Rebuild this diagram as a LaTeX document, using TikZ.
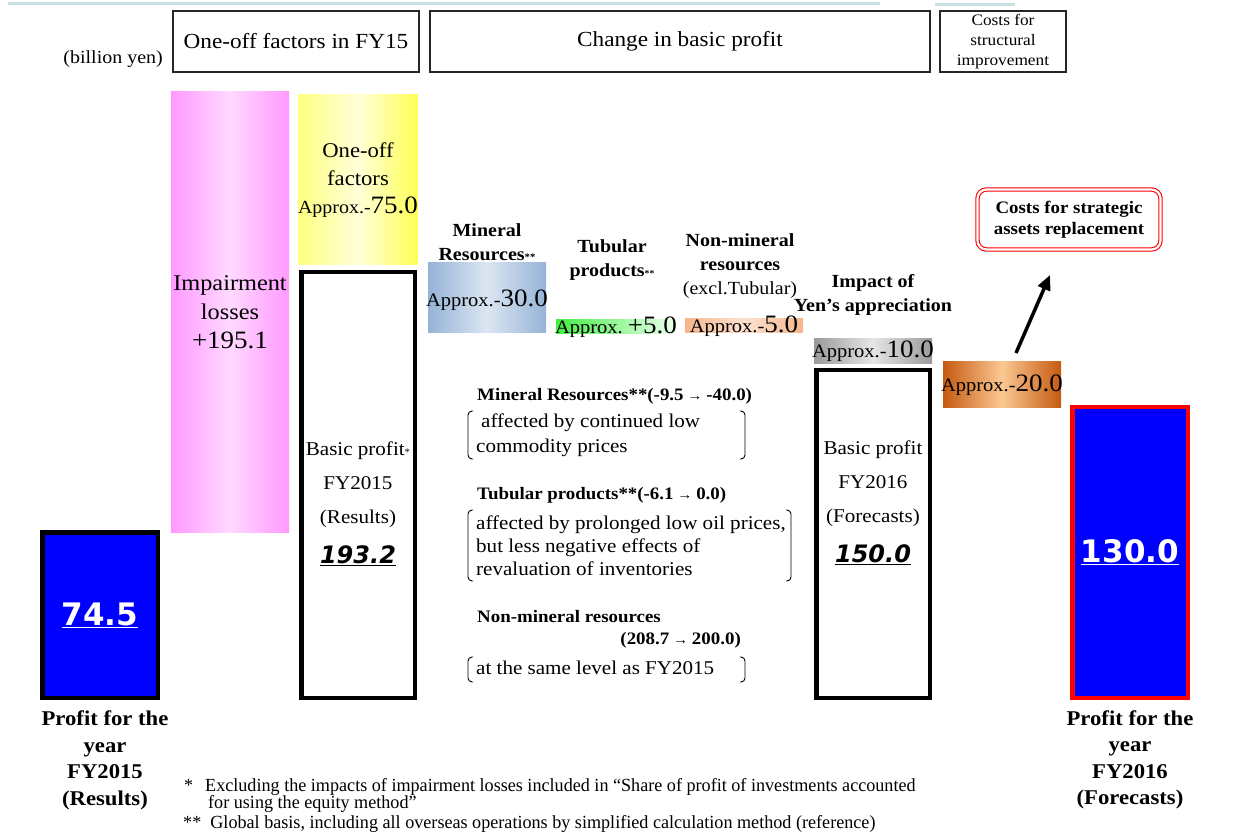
\documentclass[tikz,border=0pt]{standalone}
\usepackage{fontspec}
\setmainfont[FakeStretch=1.08]{Liberation Serif}
\newfontfamily\numfont{DejaVu Sans}
\newfontfamily\narrowfont[FakeStretch=0.98]{Liberation Serif}
\usepackage{tikz}
\usetikzlibrary{arrows.meta, shadings}

\definecolor{pinkedge}{HTML}{FF99FF}
\definecolor{pinkmid}{HTML}{FFD9FF}
\definecolor{yellowleft}{HTML}{FFFF80}
\definecolor{yellowmid}{HTML}{FFFFD8}
\definecolor{yellowright}{HTML}{FFFF55}
\definecolor{mineraledge}{HTML}{95B3D7}
\definecolor{mineralmid}{HTML}{DCE6F2}
\definecolor{tubleft}{HTML}{44EE44}
\definecolor{tubright}{HTML}{EEFFEE}
\definecolor{nonminedge}{HTML}{F5B68A}
\definecolor{nonminmid}{HTML}{FCE2D0}
\definecolor{yenedge}{HTML}{9A9A9A}
\definecolor{yenmid}{HTML}{E6E6E6}
\definecolor{costedge}{HTML}{C55A11}
\definecolor{costmid}{HTML}{FBC892}
\definecolor{profitblue}{HTML}{0000FF}
\definecolor{bandgray}{RGB}{200,222,226}

\newcommand{\fsz}[2]{\fontsize{#1}{#2}\selectfont}
% brackets round the notes: left x, right x, top y, bottom y
\newcommand{\bracketpair}[4]{%
  \draw[bracketline] (#1+5,#3) -- (#1,#3) -- (#1,#4) -- (#1+5,#4);
  \draw[bracketline] (#2-5,#3) -- (#2,#3) -- (#2,#4) -- (#2-5,#4);}

\begin{document}
\begin{tikzpicture}[x=1pt, y=-1pt,
    hdr/.style={draw=black!85, line width=1.2pt, minimum height=61pt, inner sep=0pt},
    bar/.style={minimum width=118pt, inner sep=0pt, outer sep=0pt},
    totalbar/.style={draw=black, line width=4.5pt, inner sep=0pt, outer sep=0pt},
    bartext/.style={align=center, inner sep=0pt},
    barlabel/.style={align=center, inner sep=0pt, font=\fsz{18.5}{24}\bfseries},
    bignum/.style={font=\numfont\fsz{31}{31}\bfseries, text=white},
    basicnum/.style={font=\numfont\fsz{24}{24}\bfseries\itshape},
    note/.style={anchor=base west, inner sep=0pt, font=\fsz{19.5}{23}},
    notehead/.style={note, font=\fsz{17.5}{20}\bfseries},
    bracketline/.style={line width=0.9pt, rounded corners=4pt},
    foot/.style={anchor=base west, inner sep=0pt, font=\narrowfont\fsz{18.5}{20}},
    yearlabel/.style={align=center, inner sep=0pt, font=\fsz{21}{26.5}\bfseries},
    upcost/.style={line width=3.5pt, -{Triangle[length=15pt, width=13pt]}}]
\useasboundingbox (0,0) rectangle (1235,834);
\draw[bandgray, line width=3pt] (8,4) -- (880,4);
\draw[bandgray, line width=3pt] (935,5) -- (1015,5);

% headers
\node[anchor=base east, inner sep=0pt, font=\fsz{18.5}{22}] (unit) at (163,64) {(billion yen)};
\node[hdr, minimum width=246pt, font=\fsz{21.5}{26}] (hdroneoff) at (296,41.5) {One-off factors in FY15};
\node[hdr, minimum width=500pt, font=\fsz{21.5}{26}] (hdrchange) at (680,41.5) {Change in basic profit};
\node[hdr, minimum width=126pt, align=center, font=\fsz{16}{20}] (hdrstruct) at (1003,41.5) {Costs for\\structural\\improvement};

% one-off factors
\node[bar, minimum height=440pt, left color=pinkedge, right color=pinkedge, middle color=pinkmid,
      bartext, font=\fsz{22.5}{29}] (impair) at (230,312) {Impairment\\losses\\{\fsz{25}{30}+195.1}};
\node[bar, minimum height=170pt, left color=yellowleft, right color=yellowright, middle color=yellowmid,
      bartext, font=\fsz{21}{28}] (oneoff) at (358,180) {One-off\\factors\\{\fsz{18.5}{28}Approx.-}{\fsz{25}{28}75.0}};

% profit and basic profit columns
\node[totalbar, fill=profitblue, minimum width=115.5pt, minimum height=165.5pt, bignum] (profit15) at (100,615) {\underline{74.5}};
\node[totalbar, minimum width=113.5pt, minimum height=425.5pt] (basic15) at (358,485) {};
\node[bartext, font=\fsz{19.5}{34}] (basic15lbl) at ([yshift=-19pt]basic15.center)
  {Basic profit{\fsz{10}{10}*}\\FY2015\\(Results)\\[6pt]{\numfont\fsz{24}{24}\bfseries\itshape\underline{193.2}}};
\node[totalbar, minimum width=113.5pt, minimum height=327.5pt] (basic16) at (873,534) {};
\node[bartext, font=\fsz{19.5}{34}] (basic16lbl) at ([yshift=31pt]basic16.center)
  {Basic profit\\FY2016\\(Forecasts)\\[6pt]{\numfont\fsz{24}{24}\bfseries\itshape\underline{150.0}}};
\node[totalbar, draw=red, fill=profitblue, minimum width=115.5pt, minimum height=290.5pt, bignum] (profit16) at (1130,552.5) {\underline{130.0}};

% changes in basic profit
\node[bar, minimum height=70pt, left color=mineraledge, right color=mineraledge, middle color=mineralmid] (mineral) at (487,298) {};
\node[bartext] (mineralval) at ([yshift=-2pt]mineral.center) {{\fsz{19}{22}Approx.-}{\fsz{25}{26}30.0}};
\node[bar, minimum width=120pt, minimum height=14pt, left color=tubleft, right color=tubright] (tubular) at (616,327) {};
\node[bartext] (tubularval) at (tubular.center) {{\fsz{19}{22}Approx.\ }{\fsz{25}{26}+5.0}};
\node[bar, minimum height=14pt, left color=nonminedge, right color=nonminedge, middle color=nonminmid] (nonmin) at (744,326) {};
\node[bartext] (nonminval) at (nonmin.center) {{\fsz{19}{22}Approx.-}{\fsz{25}{26}5.0}};
\node[bar, minimum height=25pt, left color=yenedge, right color=yenedge, middle color=yenmid] (yen) at (873,351.5) {};
\node[bartext] (yenval) at (yen.center) {{\fsz{19}{22}Approx.-}{\fsz{25}{26}10.0}};
\node[bar, minimum height=46pt, left color=costedge, right color=costedge, middle color=costmid] (costs20) at (1002,385) {};
\node[bartext] (costs20val) at (costs20.center) {{\fsz{19}{22}Approx.-}{\fsz{25}{26}20.0}};

\node[barlabel] (minerallbl) at (487,242) {Mineral\\Resources{\fsz{10}{10}**}};
\node[barlabel] (tubularlbl) at (612,260) {Tubular\\products{\fsz{9}{9}**}};
\node[barlabel] (nonminlbl) at (740,266) {Non-mineral\\resources\\{\mdseries(excl.Tubular)}};
\node[barlabel] (yenlbl) at (873,295) {Impact of\\Yen’s appreciation};

% costs for strategic assets replacement
\node[draw=red, double=white, double distance=2.2pt, line width=1.1pt, rounded corners=9pt,
      minimum width=183pt, minimum height=60pt, align=center, font=\fsz{17.5}{21.5}\bfseries] (strategic) at (1069,219.5)
  {Costs for strategic\\assets replacement};
\coordinate (costtip) at (1050,275);
\draw[upcost] ([xshift=14pt, yshift=9pt]costs20.north) -- (costtip);

% notes on segments
\node[notehead] (mineralhead) at (477,400) {Mineral Resources**(-9.5{\fsz{14}{14} → }-40.0)};
\node[note] (mineralline1) at (481,428) {affected by continued low};
\node[note] (mineralline2) at (476,452) {commodity prices};
\bracketpair{468}{745}{411}{459}
\node[notehead] (tubularhead) at (477,499) {Tubular products**(-6.1{\fsz{14}{14} → }0.0)};
\node[note] (tubularline1) at (476,529) {affected by prolonged low oil prices,};
\node[note] (tubularline2) at (476,552) {but less negative effects of};
\node[note] (tubularline3) at (476,575) {revaluation of inventories};
\bracketpair{468}{791}{510}{581}
\node[notehead] (nonminhead) at (477,622) {Non-mineral resources};
\node[notehead, anchor=base east] (nonminrange) at (741,644) {(208.7{\fsz{14}{14} → }200.0)};
\node[note] (nonminline) at (476,674) {at the same level as FY2015};
\bracketpair{468}{745}{657}{682}

% year labels
\node[yearlabel] (year15) at (105,760.5) {Profit for the\\year\\FY2015\\(Results)};
\node[yearlabel] (year16) at (1130,760) {Profit for the\\year\\FY2016\\(Forecasts)};

% footnotes
\node[foot] (fnstar) at (184,791) {*};
\node[foot] (fnone) at (205,791) {Excluding the impacts of impairment losses included in “Share of profit of investments accounted};
\node[foot] (fnonecont) at (208,808) {for using the equity method”};
\node[foot] (fntwo) at (183,828) {**\ \ Global basis, including all overseas operations by simplified calculation method (reference)};
\end{tikzpicture}
\end{document}
